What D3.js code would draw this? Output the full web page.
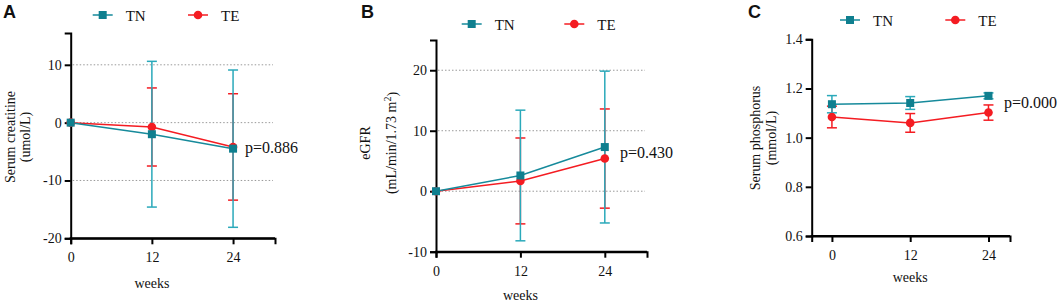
<!DOCTYPE html>
<html>
<head>
<meta charset="utf-8">
<script src="https://cdn.jsdelivr.net/npm/d3@7"></script>
<style>
	body { margin: 0; background: #fff; }
	text { font-family: "Liberation Serif", "Times New Roman", serif; fill: #111; }
	.panelLetter { font-family: "Liberation Sans", Arial, sans-serif; font-weight: bold; }
</style>
</head>
<body>
<svg id="chart" width="1059" height="303"></svg>
<script>

var weeks = [0, 12, 24];
var weekTicks = [0, 12, 24];

// A - serum creatinine change
var creatTN = [0, -2.0, -4.5];
var creatTNsd = [0, 12.6, 13.6];
var creatTE = [0, -0.75, -4.2];
var creatTEsd = [0, 6.75, 9.2];
var creatTicks = [-20, -10, 0, 10];
var creatGrid = [-10, 0, 10];

// B - eGFR change
var egfrTN = [0, 2.6, 7.3];
var egfrTNsd = [0, 10.8, 12.55];
var egfrTE = [0, 1.7, 5.4];
var egfrTEsd = [0, 7.1, 8.2];
var egfrTicks = [-10, 0, 10, 20];
var egfrGrid = [0, 10, 20];

// C - serum phosphorus
var phosTN = [1.136, 1.141, 1.170];
var phosTNsd = [0.035, 0.026, 0.012];
var phosTE = [1.084, 1.060, 1.102];
var phosTEsd = [0.044, 0.038, 0.031];
var phosTicks = [0.6, 0.8, 1.0, 1.2, 1.4];

var tnColor = "#168a9b";
var tnBarColor = "#2aa9ba";
var tnMarker = "#0f7f8f";
var teColor = "#f41c22";

var serif = "'Liberation Serif', 'Times New Roman', serif";

var svg = d3.select("#chart");

var panels = [
	{
		letter: "A", letterX: 3,
		xDomain: [0, 30.2], xRange: [70.7, 275],
		yDomain: [-20, 15.5], yRange: [238.3, 33],
		ticks: creatTicks, grid: creatGrid, fmt: d => String(d),
		tn: creatTN, tnSd: creatTNsd, te: creatTE, teSd: creatTEsd,
		ylabel: ["Serum creatitine", "(umol/L)"], ylabelX: [10, 25], ylabelY: 137,
		legendY: 15, legendTN: 102.7, legendTE: 198,
		weeksY: 283, p: "p=0.886", pX: 245, pY: 153
	},
	{
		letter: "B", letterX: 361,
		xDomain: [0, 30], xRange: [436, 647],
		yDomain: [-10, 25], yRange: [251.7, 40],
		ticks: egfrTicks, grid: egfrGrid, fmt: d => String(d),
		tn: egfrTN, tnSd: egfrTNsd, te: egfrTE, teSd: egfrTEsd,
		ylabel: ["eGFR", "(mL/min/1.73 m"], ylabelX: [365.8, 391.7], ylabelY: 143,
		legendY: 24, legendTN: 471.7, legendTE: 574.3,
		weeksY: 295, p: "p=0.430", pX: 620, pY: 158
	},
	{
		letter: "C", letterX: 748,
		xDomain: [-3.1, 27.3], xRange: [811.7, 1010],
		yDomain: [0.6, 1.4], yRange: [236, 39.3],
		ticks: phosTicks, grid: [], fmt: d3.format(".1f"),
		tn: phosTN, tnSd: phosTNsd, te: phosTE, teSd: phosTEsd,
		ylabel: ["Serum phosphorus", "(mmol/L)"], ylabelX: [755, 771.7], ylabelY: 138,
		legendY: 20, legendTN: 850, legendTE: 955.3,
		weeksY: 277, p: "p=0.000", pX: 1004, pY: 108
	}
];

panels.forEach(drawPanel);

function drawPanel(cfg) {

	var g = svg.append("g");

	var x = d3.scaleLinear().domain(cfg.xDomain).range(cfg.xRange);
	var y = d3.scaleLinear().domain(cfg.yDomain).range(cfg.yRange);

	var x0 = cfg.xRange[0];
	var x1 = cfg.xRange[1];
	var yBottom = cfg.yRange[0];

	// panel letter
	g.append("text")
		.attr("class", "panelLetter")
		.attr("x", cfg.letterX)
		.attr("y", 18)
		.style("font-size", "18px")
		.text(cfg.letter);

	// dotted gridlines
	g.selectAll(".grid")
		.data(cfg.grid)
		.join("line")
		.attr("x1", x0 + 2)
		.attr("x2", x1 - 2)
		.attr("y1", d => y(d))
		.attr("y2", d => y(d))
		.attr("stroke", "#9a9a9a")
		.attr("stroke-width", 1)
		.attr("stroke-dasharray", "1.5,2");

	// axes
	var yAxis = g.append("g")
		.attr("transform", "translate(" + x0 + ",0)")
		.call(d3.axisLeft(y).tickValues(cfg.ticks).tickFormat(cfg.fmt).tickSizeOuter(0).tickSize(6).tickPadding(3));

	var xAxis = g.append("g")
		.attr("transform", "translate(0," + yBottom + ")")
		.call(d3.axisBottom(x).tickValues(weekTicks).tickSizeOuter(0).tickSize(6).tickPadding(8));

	[yAxis, xAxis].forEach(function(a) {
		a.attr("font-family", serif).attr("font-size", 14);
		a.select(".domain").attr("stroke", "#000").attr("stroke-width", 2);
		a.selectAll(".tick line").attr("stroke", "#000").attr("stroke-width", 2);
		a.selectAll(".tick text")
			.attr("font-family", serif)
			.style("font-family", serif)
			.style("font-size", "14px")
			.attr("fill", "#111");
	});

	// extend the x axis line to meet the y axis
	g.append("line")
		.attr("x1", x0 - 1).attr("x2", x1)
		.attr("y1", yBottom).attr("y2", yBottom)
		.attr("stroke", "#000").attr("stroke-width", 2);

	// series
	var series = [
		{ vals: cfg.te, sd: cfg.teSd, line: teColor, bar: teColor, fill: teColor, shape: "circle" },
		{ vals: cfg.tn, sd: cfg.tnSd, line: tnColor, bar: tnBarColor, fill: tnMarker, shape: "square" }
	];

	var rows = series.map(function(s) {
		return weeks.map(function(w, i) {
			return { w: w, v: s.vals[i], sd: s.sd[i] };
		});
	});

	// error bars
	series.forEach(function(s, k) {
		var eb = g.append("g")
			.selectAll("g")
			.data(rows[k].filter(d => d.sd > 0))
			.join("g")
			.attr("stroke", s.bar)
			.attr("stroke-width", 1.5);

		eb.append("line")
			.attr("x1", d => x(d.w)).attr("x2", d => x(d.w))
			.attr("y1", d => y(d.v + d.sd)).attr("y2", d => y(d.v - d.sd));

		eb.append("line")
			.attr("x1", d => x(d.w) - 5).attr("x2", d => x(d.w) + 5)
			.attr("y1", d => y(d.v + d.sd)).attr("y2", d => y(d.v + d.sd));

		eb.append("line")
			.attr("x1", d => x(d.w) - 5).attr("x2", d => x(d.w) + 5)
			.attr("y1", d => y(d.v - d.sd)).attr("y2", d => y(d.v - d.sd));
	});

	// lines
	var line = d3.line().x(d => x(d.w)).y(d => y(d.v));

	series.forEach(function(s, k) {
		g.append("path")
			.datum(rows[k])
			.attr("d", line)
			.attr("fill", "none")
			.attr("stroke", s.line)
			.attr("stroke-width", 1.5);
	});

	// markers
	series.forEach(function(s, k) {
		drawMarkers(g, rows[k], s, x, y);
	});

	// p value
	g.append("text")
		.attr("x", cfg.pX)
		.attr("y", cfg.pY)
		.style("font-size", "16px")
		.text(cfg.p);

	// weeks label
	g.append("text")
		.attr("x", x(12))
		.attr("y", cfg.weeksY)
		.attr("text-anchor", "middle")
		.attr("dominant-baseline", "central")
		.style("font-size", "14px")
		.text("weeks");

	// y label, two rotated lines
	cfg.ylabel.forEach(function(t, i) {
		var lab = g.append("text")
			.attr("transform", "translate(" + cfg.ylabelX[i] + "," + cfg.ylabelY + ") rotate(-90)")
			.attr("text-anchor", "middle")
			.attr("dominant-baseline", "central")
			.style("font-size", "14px")
			.text(t);

		if (cfg.letter == "B" && i == 1) {
			lab.append("tspan")
				.attr("dy", "-5")
				.style("font-size", "10px")
				.text("2");
			lab.append("tspan")
				.attr("dy", "5")
				.text(")");
		}
	});

	// legend
	var legend = [
		{ label: "TN", cx: cfg.legendTN, s: series[1] },
		{ label: "TE", cx: cfg.legendTE, s: series[0] }
	];

	legend.forEach(function(l) {
		g.append("line")
			.attr("x1", l.cx - 10).attr("x2", l.cx + 10)
			.attr("y1", cfg.legendY).attr("y2", cfg.legendY)
			.attr("stroke", l.s.line)
			.attr("stroke-width", 1.5);

		drawMarkers(g, [{ w: 0, v: 0 }], l.s, () => l.cx, () => cfg.legendY);

		g.append("text")
			.attr("x", l.cx + 23)
			.attr("y", cfg.legendY + 5.5)
			.style("font-size", "15px")
			.text(l.label);
	});
}

function drawMarkers(g, data, s, x, y) {
	if (s.shape == "square") {
		g.selectAll(null)
			.data(data)
			.join("rect")
			.attr("x", d => x(d.w) - 4)
			.attr("y", d => y(d.v) - 4)
			.attr("width", 8)
			.attr("height", 8)
			.attr("fill", s.fill);
	} else {
		g.selectAll(null)
			.data(data)
			.join("circle")
			.attr("cx", d => x(d.w))
			.attr("cy", d => y(d.v))
			.attr("r", 4.3)
			.attr("fill", s.fill);
	}
}

</script>
</body>
</html>
